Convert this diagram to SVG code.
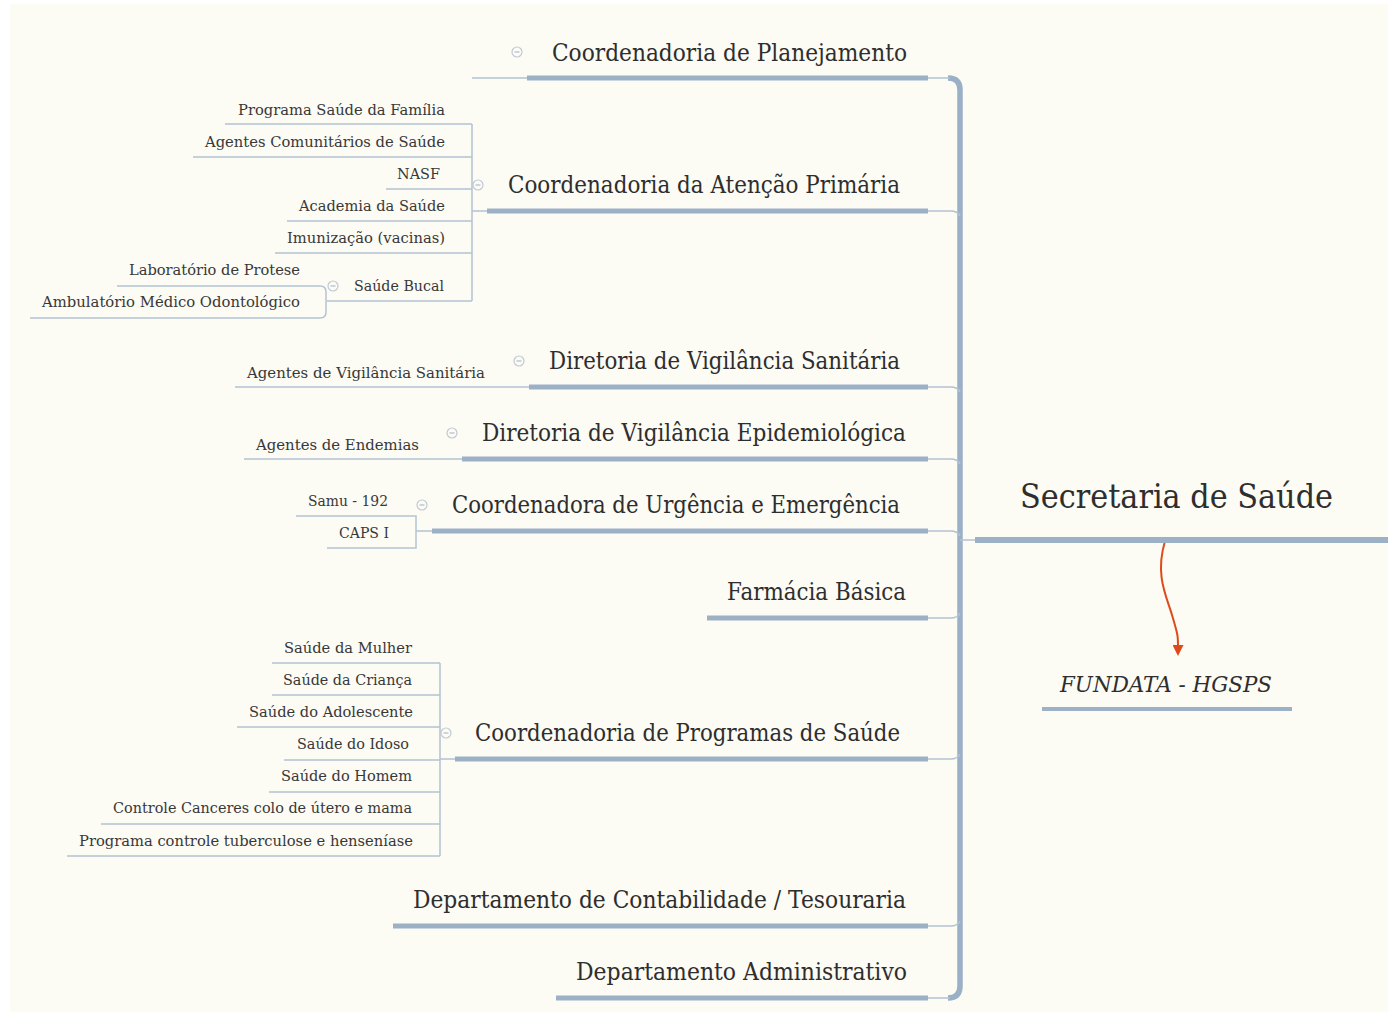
<svg xmlns="http://www.w3.org/2000/svg" width="1388" height="1012" viewBox="0 0 1388 1012">
<style>
.bg{fill:#fcfbf4}
.main{font-family:"DejaVu Serif","Liberation Serif",serif;font-size:24px;fill:#2e2e2e}
.sub{font-family:"DejaVu Serif","Liberation Serif",serif;font-size:15.5px;fill:#383838}
.root{font-family:"DejaVu Serif","Liberation Serif",serif;font-size:33px;fill:#2e2e2e}
.float{font-family:"DejaVu Serif","Liberation Serif",serif;font-size:22px;font-style:italic;fill:#2e2e2e}
.thick{stroke:#9cb1c5;stroke-width:5;fill:none;stroke-linecap:butt}
.spine{stroke:#9ab0c6;stroke-width:5.5;fill:none}
.thin{stroke:#b3c3d2;stroke-width:1.5;fill:none}
.ic circle{fill:#fcfbf4;stroke:#c0cad6;stroke-width:1.2}
.ic line{stroke:#b0bccb;stroke-width:1.2}
.rel{stroke:#de4a1a;stroke-width:2;fill:none}
</style>
<defs>
<g id="ico" class="ic"><circle r="5"/><line x1="-2.5" y1="0" x2="2.5" y2="0"/></g>
<marker id="ah" viewBox="0 0 10 10" refX="1" refY="5" markerWidth="13" markerHeight="11" orient="auto" markerUnits="userSpaceOnUse">
<path d="M0,0 L10,5 L0,10 z" fill="#de4a1a"/>
</marker>
</defs>
<rect x="0" y="0" width="1388" height="1012" fill="#ffffff"/>
<rect class="bg" x="10" y="4" width="1378" height="1008"/>

<g id="connectors">
<path class="spine" d="M948 78 Q960 78 960 90 V986 Q960 998 948 998"/>
<path class="thin" d="M928 78 H950"/>
<path class="thin" d="M928 211 H950 Q958 211 960 216"/>
<path class="thin" d="M928 387 H950 Q958 387 960 392"/>
<path class="thin" d="M928 459 H950 Q958 459 960 464"/>
<path class="thin" d="M928 531 H950 Q958 531 960 536"/>
<path class="thin" d="M928 618 H950 Q958 618 960 613"/>
<path class="thin" d="M928 759 H950 Q958 759 960 754"/>
<path class="thin" d="M928 926 H950 Q958 926 960 921"/>
<path class="thin" d="M928 998 H950"/>
<path class="thin" d="M960 540 H975"/>
<path class="thin" d="M472 78 H527"/>
<path class="thin" d="M472 124 V301"/>
<path class="thin" d="M472 211 H487"/>
<path class="thin" d="M225 124 H472"/>
<path class="thin" d="M193 157 H472"/>
<path class="thin" d="M386 189 H472"/>
<path class="thin" d="M287 221 H472"/>
<path class="thin" d="M275 253 H472"/>
<path class="thin" d="M327 301 H472"/>
<path class="thin" d="M117 286 H320 Q326 286 326 292 V312 Q326 318 320 318 H30"/>
<path class="thin" d="M235 387 H529"/>
<path class="thin" d="M244 459 H462"/>
<path class="thin" d="M296 516 H416 V548 H327"/>
<path class="thin" d="M416 531 H432"/>
<path class="thin" d="M440 663 V856"/>
<path class="thin" d="M440 759 H455"/>
<path class="thin" d="M272 663 H440"/>
<path class="thin" d="M272 695 H440"/>
<path class="thin" d="M237 727 H440"/>
<path class="thin" d="M284 760 H440"/>
<path class="thin" d="M269 792 H440"/>
<path class="thin" d="M101 824 H440"/>
<path class="thin" d="M67 856 H440"/>
<path class="rel" d="M1165 541 C1155 575 1166 595 1172 615 S1178 636 1178 646" marker-end="url(#ah)"/>
</g>

<g id="root">
<text class="root" x="1020" y="508" textLength="313" lengthAdjust="spacingAndGlyphs">Secretaria de Saúde</text>
<path class="thick" d="M975 540 H1388" style="stroke-width:6"/>
</g>

<g id="fundata">
<text class="float" x="1060" y="692" textLength="212" lengthAdjust="spacingAndGlyphs">FUNDATA - HGSPS</text>
<path class="thick" d="M1042 709 H1292" style="stroke-width:4"/>
</g>

<g id="planejamento">
<text class="main" x="552" y="61" textLength="355" lengthAdjust="spacingAndGlyphs">Coordenadoria de Planejamento</text>
<path class="thick" d="M527 78 H928"/>
<use href="#ico" x="517" y="52"/>
</g>

<g id="atencao">
<text class="main" x="508" y="193" textLength="392" lengthAdjust="spacingAndGlyphs">Coordenadoria da Atenção Primária</text>
<path class="thick" d="M487 211 H928"/>
<use href="#ico" x="478" y="185"/>
</g>
<g id="psf"><text class="sub" x="238" y="115" textLength="207" lengthAdjust="spacingAndGlyphs">Programa Saúde da Família</text></g>
<g id="acs"><text class="sub" x="205" y="147" textLength="240" lengthAdjust="spacingAndGlyphs">Agentes Comunitários de Saúde</text></g>
<g id="nasf"><text class="sub" x="397" y="179" textLength="43" lengthAdjust="spacingAndGlyphs">NASF</text></g>
<g id="academia"><text class="sub" x="299" y="211" textLength="146" lengthAdjust="spacingAndGlyphs">Academia da Saúde</text></g>
<g id="imunizacao"><text class="sub" x="287" y="243" textLength="158" lengthAdjust="spacingAndGlyphs">Imunização (vacinas)</text></g>
<g id="bucal">
<text class="sub" x="354" y="291" textLength="90" lengthAdjust="spacingAndGlyphs">Saúde Bucal</text>
<use href="#ico" x="333" y="286"/>
</g>
<g id="protese"><text class="sub" x="129" y="275" textLength="171" lengthAdjust="spacingAndGlyphs">Laboratório de Protese</text></g>
<g id="ambulatorio"><text class="sub" x="42" y="307" textLength="258" lengthAdjust="spacingAndGlyphs">Ambulatório Médico Odontológico</text></g>

<g id="sanitaria">
<text class="main" x="549" y="369" textLength="351" lengthAdjust="spacingAndGlyphs">Diretoria de Vigilância Sanitária</text>
<path class="thick" d="M529 387 H928"/>
<use href="#ico" x="519" y="361"/>
</g>
<g id="agsanit"><text class="sub" x="247" y="378" textLength="238" lengthAdjust="spacingAndGlyphs">Agentes de Vigilância Sanitária</text></g>

<g id="epidemio">
<text class="main" x="482" y="441" textLength="424" lengthAdjust="spacingAndGlyphs">Diretoria de Vigilância Epidemiológica</text>
<path class="thick" d="M462 459 H928"/>
<use href="#ico" x="452" y="433"/>
</g>
<g id="endemias"><text class="sub" x="256" y="450" textLength="163" lengthAdjust="spacingAndGlyphs">Agentes de Endemias</text></g>

<g id="urgencia">
<text class="main" x="452" y="513" textLength="448" lengthAdjust="spacingAndGlyphs">Coordenadora de Urgência e Emergência</text>
<path class="thick" d="M432 531 H928"/>
<use href="#ico" x="422" y="505"/>
</g>
<g id="samu"><text class="sub" x="308" y="506" textLength="80" lengthAdjust="spacingAndGlyphs">Samu - 192</text></g>
<g id="caps"><text class="sub" x="339" y="538" textLength="50" lengthAdjust="spacingAndGlyphs">CAPS I</text></g>

<g id="farmacia">
<text class="main" x="727" y="600" textLength="179" lengthAdjust="spacingAndGlyphs">Farmácia Básica</text>
<path class="thick" d="M707 618 H928"/>
</g>

<g id="programas">
<text class="main" x="475" y="741" textLength="425" lengthAdjust="spacingAndGlyphs">Coordenadoria de Programas de Saúde</text>
<path class="thick" d="M455 759 H928"/>
<use href="#ico" x="446" y="733"/>
</g>
<g id="mulher"><text class="sub" x="284" y="653" textLength="128" lengthAdjust="spacingAndGlyphs">Saúde da Mulher</text></g>
<g id="crianca"><text class="sub" x="283" y="685" textLength="129" lengthAdjust="spacingAndGlyphs">Saúde da Criança</text></g>
<g id="adolescente"><text class="sub" x="249" y="717" textLength="164" lengthAdjust="spacingAndGlyphs">Saúde do Adolescente</text></g>
<g id="idoso"><text class="sub" x="297" y="749" textLength="112" lengthAdjust="spacingAndGlyphs">Saúde do Idoso</text></g>
<g id="homem"><text class="sub" x="281" y="781" textLength="131" lengthAdjust="spacingAndGlyphs">Saúde do Homem</text></g>
<g id="cancer"><text class="sub" x="113" y="813" textLength="299" lengthAdjust="spacingAndGlyphs">Controle Canceres colo de útero e mama</text></g>
<g id="tuberculose"><text class="sub" x="79" y="846" textLength="334" lengthAdjust="spacingAndGlyphs">Programa controle tuberculose e henseníase</text></g>

<g id="contabilidade">
<text class="main" x="413" y="908" textLength="493" lengthAdjust="spacingAndGlyphs">Departamento de Contabilidade / Tesouraria</text>
<path class="thick" d="M393 926 H928"/>
</g>

<g id="administrativo">
<text class="main" x="576" y="980" textLength="331" lengthAdjust="spacingAndGlyphs">Departamento Administrativo</text>
<path class="thick" d="M556 998 H928"/>
</g>
</svg>
